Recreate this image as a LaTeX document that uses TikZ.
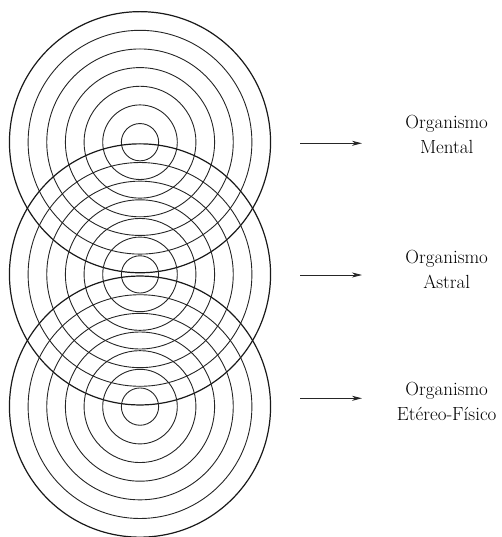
\documentclass[tikz,border=0pt]{standalone}
\usepackage{tikz}
\usetikzlibrary{arrows.meta, positioning}

\begin{document}
\begin{tikzpicture}[x=1pt, y=-1pt,
    ring/.style={draw=black!85, line width=0.9pt},
    rim/.style={draw=black!90, line width=1.2pt},
    lbl/.style={align=center, font=\fontsize{19}{25}\selectfont, inner sep=0pt},
    fwd/.style={-{Stealth[length=10pt, width=5pt, inset=3pt]}, line width=0.9pt, black!85}]
  \useasboundingbox (0,0) rectangle (501,537);
  % three bodies of concentric rings
  \foreach \cy in {142.2, 274.4, 406.6} {
    \foreach \k in {1,...,6} \draw[ring] (140,\cy) circle ({18.65*\k});
    \draw[rim] (140,\cy) circle (130.55);
  }
  \node[lbl] (mental) at (446.7,134) {Organismo\\Mental};
  \node[lbl] (astral) at (446.7,269) {Organismo\\Astral};
  \node[lbl] (fisico) at (446.7,401.5) {Organismo\\Etéreo-Físico};
  \coordinate (s1) at (300,143.3);
  \coordinate (e1) at (362,143.3);
  \coordinate (s2) at (300,275);
  \coordinate (e2) at (362,275);
  \coordinate (s3) at (300,398.3);
  \coordinate (e3) at (362,398.3);
  \foreach \i in {1,2,3} \draw[fwd] (s\i) -- (e\i);
\end{tikzpicture}
\end{document}
